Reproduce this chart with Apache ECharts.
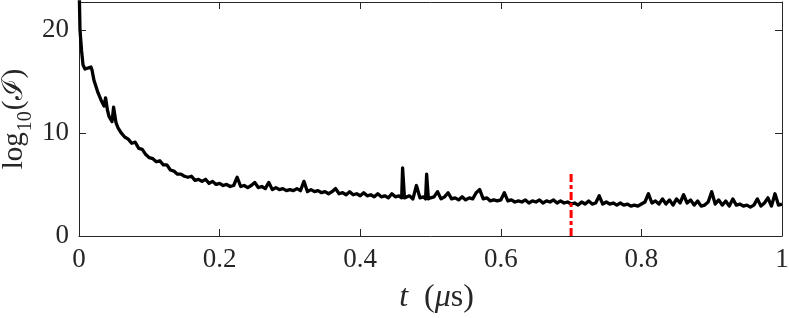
<!DOCTYPE html>
<html><head><meta charset="utf-8">
<script src="https://cdn.jsdelivr.net/npm/echarts@6/dist/echarts.min.js"></script>
<style>html,body{margin:0;padding:0;background:#fff}#c{width:789px;height:318px}</style>
</head><body><div id="c"></div>
<script>
var tValues = [0,0.0014,0.0036,0.0057,0.0085,0.0128,0.017,0.0185,0.0213,0.027,0.0313,0.0356,0.0378,0.0392,0.0405,0.0427,0.047,0.0492,0.0508,0.0526,0.0555,
0.060,0.065,0.070,0.075,0.080,0.085,0.090,0.095,0.100,0.105,0.110,0.115,0.120,0.125,0.130,0.135,0.140,0.145,0.150,0.155,0.160,0.165,0.170,0.175,0.180,0.185,0.190,0.195,0.200,
0.205,0.210,0.215,0.220,0.225,0.230,0.235,0.240,0.245,0.250,0.255,0.260,0.265,0.270,0.275,0.280,0.285,0.290,0.295,0.300,
0.305,0.310,0.315,0.320,0.325,0.330,0.335,0.340,0.345,0.350,0.355,0.360,0.365,0.370,0.375,0.380,0.385,0.390,0.395,0.400,
0.405,0.410,0.415,0.420,0.425,0.430,0.435,0.440,0.445,0.450,0.455,0.459,0.4603,0.4617,0.463,0.465,0.470,0.475,0.480,0.485,0.490,0.493,0.4945,0.4958,0.497,0.500,
0.505,0.510,0.515,0.520,0.525,0.530,0.535,0.540,0.545,0.550,0.555,0.560,0.565,0.570,0.575,0.580,0.585,0.590,0.595,0.600,
0.605,0.610,0.615,0.620,0.625,0.630,0.635,0.640,0.645,0.650,0.655,0.660,0.665,0.670,0.675,0.680,0.685,0.690,0.695,0.700,
0.705,0.710,0.715,0.720,0.725,0.730,0.735,0.740,0.745,0.750,0.755,0.760,0.765,0.770,0.775,0.780,0.785,0.790,0.795,0.800,
0.805,0.810,0.815,0.820,0.825,0.830,0.835,0.840,0.845,0.850,0.855,0.860,0.865,0.870,0.875,0.880,0.885,0.890,0.895,0.900,
0.905,0.910,0.915,0.920,0.925,0.930,0.935,0.940,0.945,0.950,0.955,0.960,0.965,0.970,0.975,0.980,0.985,0.990,0.995,1.000];

var logIValues = [25,20,18,16.6,16.2,16.3,16.4,16.1,15.1,13.9,13.2,12.6,13.4,13.3,12.2,11.6,11.1,12.5,12.4,11.0,10.5,
10.0,9.6,9.4,9.0,9.1,8.5,8.4,7.9,7.6,7.5,7.2,7.3,6.9,6.9,6.4,6.3,6.0,6.0,5.8,5.7,5.8,5.4,5.5,5.3,5.5,5.1,5.3,5.0,5.1,
4.9,5.0,4.8,4.9,5.7,4.8,4.9,4.7,4.9,5.2,4.7,4.8,4.6,5.2,4.5,4.7,4.5,4.6,4.4,4.5,
4.4,4.6,4.4,5.3,4.3,4.5,4.3,4.4,4.2,4.3,4.1,4.3,4.6,4.1,4.2,4.0,4.3,4.0,4.1,3.9,
4.2,3.9,4.0,3.8,4.1,3.8,3.9,3.7,4.1,3.8,3.9,3.7,6.6,6.5,3.7,3.7,3.9,3.6,4.9,3.7,3.8,3.6,6.0,5.9,3.6,3.7,
3.8,4.3,3.6,3.8,4.2,3.6,3.7,3.5,3.8,3.5,3.7,3.6,4.2,4.5,3.6,3.7,3.4,3.5,3.4,3.5,
4.2,3.4,3.5,3.3,3.4,3.3,3.5,3.2,3.4,3.3,3.5,3.2,3.4,3.3,3.5,3.2,3.4,3.2,3.3,3.1,
3.2,3.0,3.3,3.1,3.4,3.1,3.2,3.9,3.1,3.3,3.1,3.2,3.0,3.2,3.0,3.1,2.9,3.0,2.9,3.1,
3.3,4.1,3.2,3.4,3.1,3.6,3.1,3.5,3.0,3.6,3.2,4.0,3.2,3.5,3.0,3.4,2.9,3.0,3.3,4.3,
3.1,3.5,3.0,3.4,2.9,3.6,3.0,3.1,2.9,3.0,2.8,3.0,3.6,2.9,3.2,3.7,2.9,4.1,3.0,3.1];

var markerT = [0.7, 0.7];
var markerY = [0, 6.2];
var xTicks = [0, 0.2, 0.4, 0.6, 0.8, 1];
var yTicks = [0, 10, 20];

var lineData = tValues.map(function (t, i) { return [t, logIValues[i]]; });
var markerData = markerT.map(function (t, i) { return [t, markerY[i]]; });

var axisCol = '#262626';
var fnt = '"Liberation Serif", "DejaVu Serif", serif';
var chart = echarts.init(document.getElementById('c'));
chart.setOption({
  animation: false,
  backgroundColor: '#fff',
  grid: { left: 79, right: 7, top: 2, bottom: 82, containLabel: false, outerBoundsMode: 'none' },
  xAxis: [{
    type: 'value', min: 0, max: 1, interval: 0.2,
    axisLine: { show: true, onZero: false, lineStyle: { color: axisCol, width: 1 } },
    axisTick: { show: true, inside: true, length: 7, lineStyle: { color: axisCol } },
    splitLine: { show: false },
    axisLabel: { color: axisCol, fontFamily: fnt, fontSize: 27, margin: 10,
      formatter: function (v) { return xTicks.indexOf(+v.toFixed(2)) >= 0 ? String(+v.toFixed(2)) : ''; } },
    name: '{i|t}{p|(}{m|\u03bc}{n|s)}', nameLocation: 'middle', nameGap: 46, nameMoveOverlap: false,
    nameTextStyle: { color: axisCol, fontFamily: fnt, fontSize: 31,
      rich: {
        i: { fontStyle: 'italic', fontFamily: fnt, fontSize: 32, color: axisCol, padding: [0, 16, 0, 12] },
        p: { fontFamily: fnt, fontSize: 32, color: axisCol },
        m: { fontStyle: 'italic', fontFamily: fnt, fontSize: 32, color: axisCol },
        n: { fontFamily: fnt, fontSize: 32, color: axisCol }
      } }
  }, {
    type: 'value', min: 0, max: 1, interval: 0.2, position: 'top',
    axisLine: { show: true, onZero: false, lineStyle: { color: axisCol, width: 1 } },
    axisTick: { show: true, inside: true, length: 7, lineStyle: { color: axisCol } },
    axisLabel: { show: false }, splitLine: { show: false }
  }],
  yAxis: [{
    type: 'value', min: 0, max: 22.7, interval: 10,
    axisLine: { show: true, onZero: false, lineStyle: { color: axisCol, width: 1 } },
    axisTick: { show: true, inside: true, length: 7, lineStyle: { color: axisCol } },
    splitLine: { show: false },
    axisLabel: { color: axisCol, fontFamily: fnt, fontSize: 27, margin: 10, showMaxLabel: false,
      formatter: function (v) { return yTicks.indexOf(+v.toFixed(1)) >= 0 ? String(+v.toFixed(1)) : ''; } },
    name: '{n|log}{s|10}{n|(\u2110)}', nameLocation: 'middle', nameGap: 49, nameMoveOverlap: false,
    nameTextStyle: { color: axisCol, fontFamily: fnt, fontSize: 28,
      rich: {
        n: { fontSize: 29, fontFamily: fnt, color: axisCol, lineHeight: 30, verticalAlign: 'top' },
        s: { fontSize: 20, fontFamily: fnt, color: axisCol, lineHeight: 20, verticalAlign: 'top', padding: [16, 1, 0, 1] }
      } }
  }, {
    type: 'value', min: 0, max: 22.7, interval: 10, position: 'right',
    axisLine: { show: true, onZero: false, lineStyle: { color: axisCol, width: 1 } },
    axisTick: { show: true, inside: true, length: 7, lineStyle: { color: axisCol } },
    axisLabel: { show: false }, splitLine: { show: false }
  }],
  series: [{
    type: 'line', data: lineData, xAxisIndex: 0, yAxisIndex: 0,
    showSymbol: false, symbol: 'none', clip: true,
    lineStyle: { color: '#000', width: 3.3, join: 'round' }
  }, {
    type: 'line', data: markerData, xAxisIndex: 0, yAxisIndex: 0,
    showSymbol: false, symbol: 'none',
    lineStyle: { color: '#ff0000', width: 3, type: [8, 3, 4, 3] }
  }]
});
</script></body></html>
